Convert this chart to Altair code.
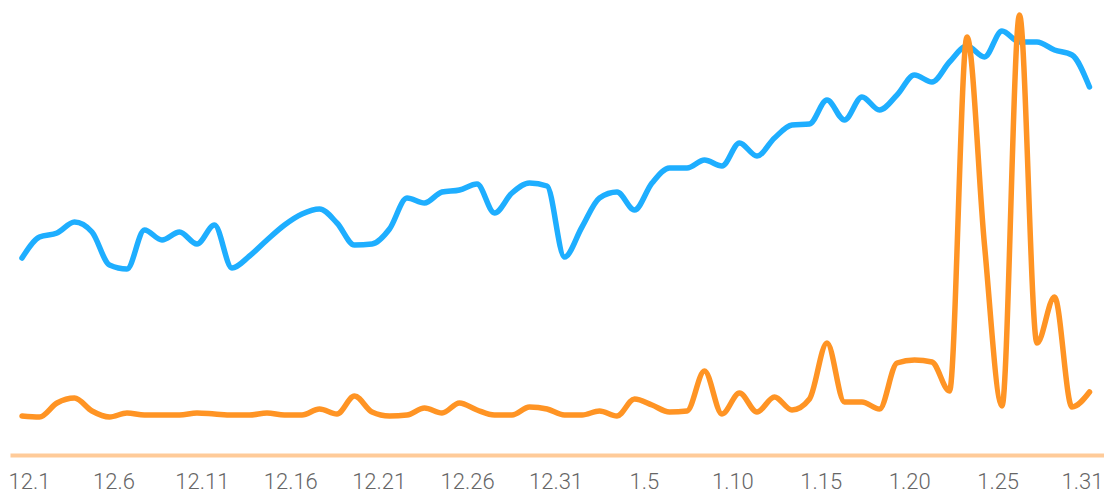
import altair as alt
import pandas as pd

# x-axis tick labels (evenly spaced along the bottom axis)
axis_labels = ["12.1", "12.6", "12.11", "12.16", "12.21", "12.26", "12.31",
               "1.5", "1.10", "1.15", "1.20", "1.25", "1.31"]

# daily categories 12.1 .. 1.31
days = [f"12.{d}" for d in range(1, 32)] + [f"1.{d}" for d in range(1, 32)]

# series values (arbitrary units)
blue_values = [197, 218, 222, 233, 223, 190, 186, 225, 215, 223, 211, 230, 187, 199, 215, 230,
               241, 246, 232, 210, 211, 226, 257, 252, 263, 265, 271, 242, 262, 272, 269, 198,
               228, 257, 263, 245, 272, 287, 287, 295, 289, 312, 299, 317, 330, 331, 355, 335,
               358, 345, 360, 380, 373, 393, 409, 398, 424, 413, 413, 405, 400, 368]
orange_values = [39, 38, 52, 57, 44, 38, 42, 40, 40, 40, 42, 41, 40, 40, 42, 40,
                 40, 46, 41, 59, 43, 39, 40, 47, 42, 52, 45, 40, 40, 48, 46, 40,
                 40, 44, 39, 56, 50, 43, 44, 84, 41, 62, 43, 58, 45, 56, 112, 53,
                 53, 46, 92, 95, 93, 64, 418, 210, 49, 440, 112, 158, 48, 63]

df = pd.DataFrame({
    "i": list(range(len(days))),
    "day": days,
    "blue": blue_values,
    "orange": orange_values,
})
lab_df = pd.DataFrame({"k": list(range(len(axis_labels))), "label": axis_labels})

W, H = 1094, 447

xs = alt.Scale(domain=[-0.6857, 61.829], nice=False, zero=False)
ys = alt.Scale(domain=[0, 447], nice=False, zero=False)

line_props = dict(interpolate="monotone", strokeWidth=5.5, strokeCap="round", strokeJoin="round")

blue = alt.Chart(df).mark_line(color="#1EAEFF", **line_props).encode(
    x=alt.X("i:Q", scale=xs, axis=None),
    y=alt.Y("blue:Q", scale=ys, axis=None),
)
orange = alt.Chart(df).mark_line(color="#FF9424", **line_props).encode(
    x=alt.X("i:Q", scale=xs, axis=None),
    y=alt.Y("orange:Q", scale=ys, axis=None),
)

n = len(axis_labels)
label_expr = "[" + ",".join(f"'{s}'" for s in axis_labels) + "][datum.value]"
axis_layer = alt.Chart(lab_df).mark_point(opacity=0).encode(
    x=alt.X(
        "k:Q",
        scale=alt.Scale(domain=[-0.1696, 12.203], nice=False, zero=False),
        axis=alt.Axis(
            values=list(range(n)),
            labelExpr=label_expr,
            title=None,
            ticks=False,
            grid=False,
            domainColor="#FFCB99",
            domainWidth=4,
            labelFont="Roboto",
            labelFontWeight=300,
            labelFontSize=22,
            labelColor="#666666",
            labelBaseline="alphabetic",
            labelPadding=33,
            labelFlush=False,
            labelOverlap=False,
            labelOffset={
                "condition": [
                    {"test": "datum.value == 0", "value": 4},
                    {"test": f"datum.value == {n - 1}", "value": -4},
                ],
                "value": 0,
            },
        ),
    ),
)

chart = (
    alt.layer(axis_layer, blue, orange)
    .resolve_scale(x="independent")
    .properties(
        width=W,
        height=H,
        autosize=alt.AutoSizeParams(type="none"),
        padding={"left": 2, "top": 0, "right": 0, "bottom": 38},
    )
    .configure_view(stroke=None)
)

chart.save("out.html", embed_options={"renderer": "svg", "actions": False})
